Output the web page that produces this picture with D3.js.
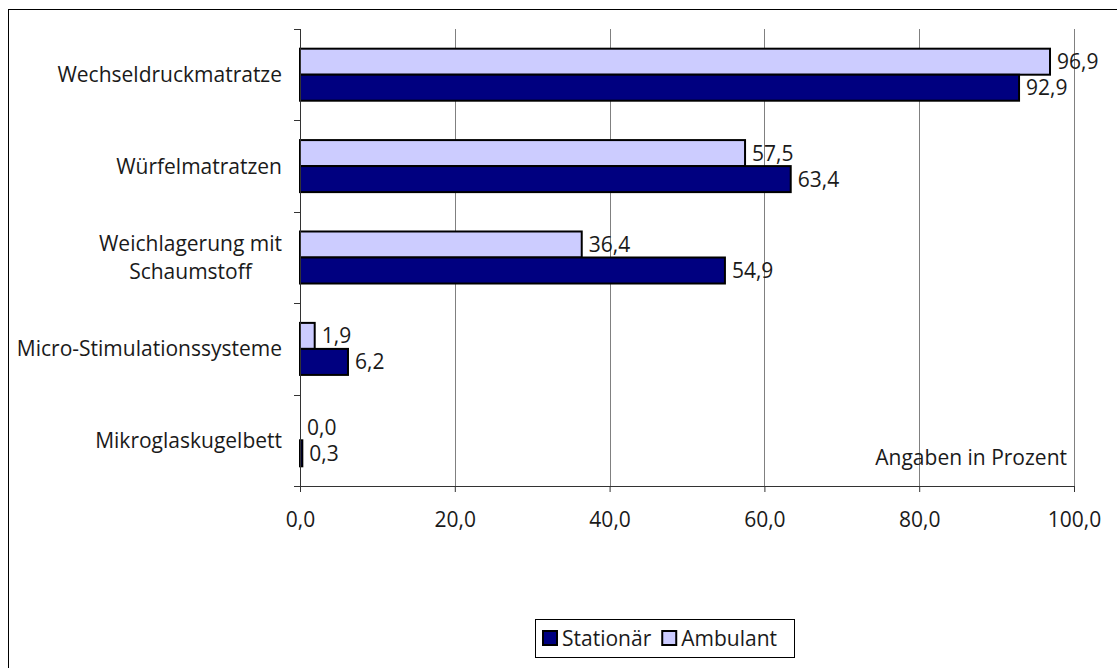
<!DOCTYPE html>
<html><head><meta charset="utf-8">
<script src="https://cdn.jsdelivr.net/npm/d3@7"></script>
<style>
html,body{margin:0;padding:0;background:#fff;}
svg text{font-family:"Open Sans","Noto Sans",sans-serif;fill:#1a1a1a;}
</style></head>
<body>
<svg id="c" width="1117" height="668"></svg>
<script>
const categories = ["Wechseldruckmatratze","Würfelmatratzen","Weichlagerung mit|Schaumstoff","Micro-Stimulationssysteme","Mikroglaskugelbett"];
const ambulant = [96.9, 57.5, 36.4, 1.9, 0.0];
const stationaer = [92.9, 63.4, 54.9, 6.2, 0.3];
const seriesNames = ["Stationär","Ambulant"];
const xTicks = [0,20,40,60,80,100];
const note = "Angaben in Prozent";

(function(){
const svg = d3.select("#c");
const fs = 21;
const fmt = v => d3.format(".1f")(v).replace(".", ",");

svg.append("rect").attr("x",8.5).attr("y",9.5).attr("width",1200).attr("height",800)
  .attr("fill","none").attr("stroke","#000").attr("stroke-width",1);

const pL=300, pR=1074, pT=29, pB=486;
const x = d3.scaleLinear().domain([0,100]).range([pL,pR]);
const y = d3.scaleBand().domain(categories).range([pT,pB]).paddingInner(0).paddingOuter(0);
const sub = d3.scaleBand().domain(["Ambulant","Stationär"]).range([0,y.bandwidth()]).paddingInner(0).paddingOuter(0.757);

svg.append("g").selectAll("line").data(xTicks.slice(1)).join("line")
  .attr("x1",d=>Math.round(x(d))+0.5).attr("x2",d=>Math.round(x(d))+0.5)
  .attr("y1",pT).attr("y2",pB).attr("stroke","#808080").attr("stroke-width",1);

const g = svg.append("g");
categories.forEach((c,i)=>{
  const data=[["Ambulant",ambulant[i],"#CCCCFF"],["Stationär",stationaer[i],"#000080"]];
  data.forEach(([s,v,col])=>{
    const by = y(c)+sub(s);
    if (v>0) {
      g.append("rect").attr("x",x(0)).attr("y",by).attr("width",x(v)-x(0)).attr("height",sub.bandwidth())
        .attr("fill",col).attr("stroke","#000").attr("stroke-width",2);
    }
    g.append("text").attr("x",x(v)+7).attr("y",by+sub.bandwidth()/2).attr("dy","0.36em")
      .attr("font-size",fs).text(fmt(v));
  });
});

const xa = svg.append("g").attr("transform",`translate(0,${pB})`)
  .call(d3.axisBottom(x).tickValues(xTicks).tickFormat(fmt).tickSize(6).tickPadding(20));
xa.select(".domain").attr("stroke","#333").attr("d",`M${pL-6},0.5H${pR}`);
xa.selectAll(".tick line").attr("stroke","#333");
xa.selectAll("text").attr("font-size",fs).attr("fill","#1a1a1a").attr("font-family",'"Open Sans","Noto Sans",sans-serif');

const ya = svg.append("g");
ya.append("line").attr("x1",pL+0.5).attr("x2",pL+0.5).attr("y1",pT).attr("y2",pB).attr("stroke","#333");
const bounds = categories.map(c=>y(c)).concat([pB]);
ya.selectAll("line.t").data(bounds).join("line").attr("class","t")
  .attr("x1",pL-6).attr("x2",pL).attr("y1",d=>Math.round(d)+0.5).attr("y2",d=>Math.round(d)+0.5).attr("stroke","#333");

categories.forEach(c=>{
  const lines=c.split("|");
  const cy=y(c)+y.bandwidth()/2;
  if(lines.length===1){
    svg.append("text").attr("x",282).attr("y",cy).attr("dy","0.36em").attr("text-anchor","end").attr("font-size",fs).text(lines[0]);
  } else {
    const t = svg.append("text").attr("font-size",fs).attr("text-anchor","middle");
    const tmp = svg.append("text").attr("font-size",fs).text(lines[0]);
    const w = tmp.node().getComputedTextLength(); tmp.remove();
    const cx = 282 - w/2;
    lines.forEach((l,k)=>{
      t.append("tspan").attr("x",cx).attr("y",cy+(k-(lines.length-1)/2)*28).attr("dy","0.36em").text(l);
    });
  }
});

svg.append("text").attr("x",1067).attr("y",465).attr("text-anchor","end").attr("font-size",fs).text(note);

const lg = svg.append("g");
lg.append("rect").attr("x",535.5).attr("y",619.5).attr("width",259).attr("height",38).attr("fill","#fff").attr("stroke","#000");
const legCols = {"Stationär":"#000080","Ambulant":"#CCCCFF"};
let lx = 543;
seriesNames.forEach(s=>{
  lg.append("rect").attr("x",lx).attr("y",631).attr("width",14).attr("height",14).attr("fill",legCols[s]).attr("stroke","#000").attr("stroke-width",2);
  const t = lg.append("text").attr("x",lx+19).attr("y",638).attr("dy","0.36em").attr("font-size",fs).text(s);
  lx += 19 + t.node().getComputedTextLength() + 11;
});
})();
</script>
</body></html>
